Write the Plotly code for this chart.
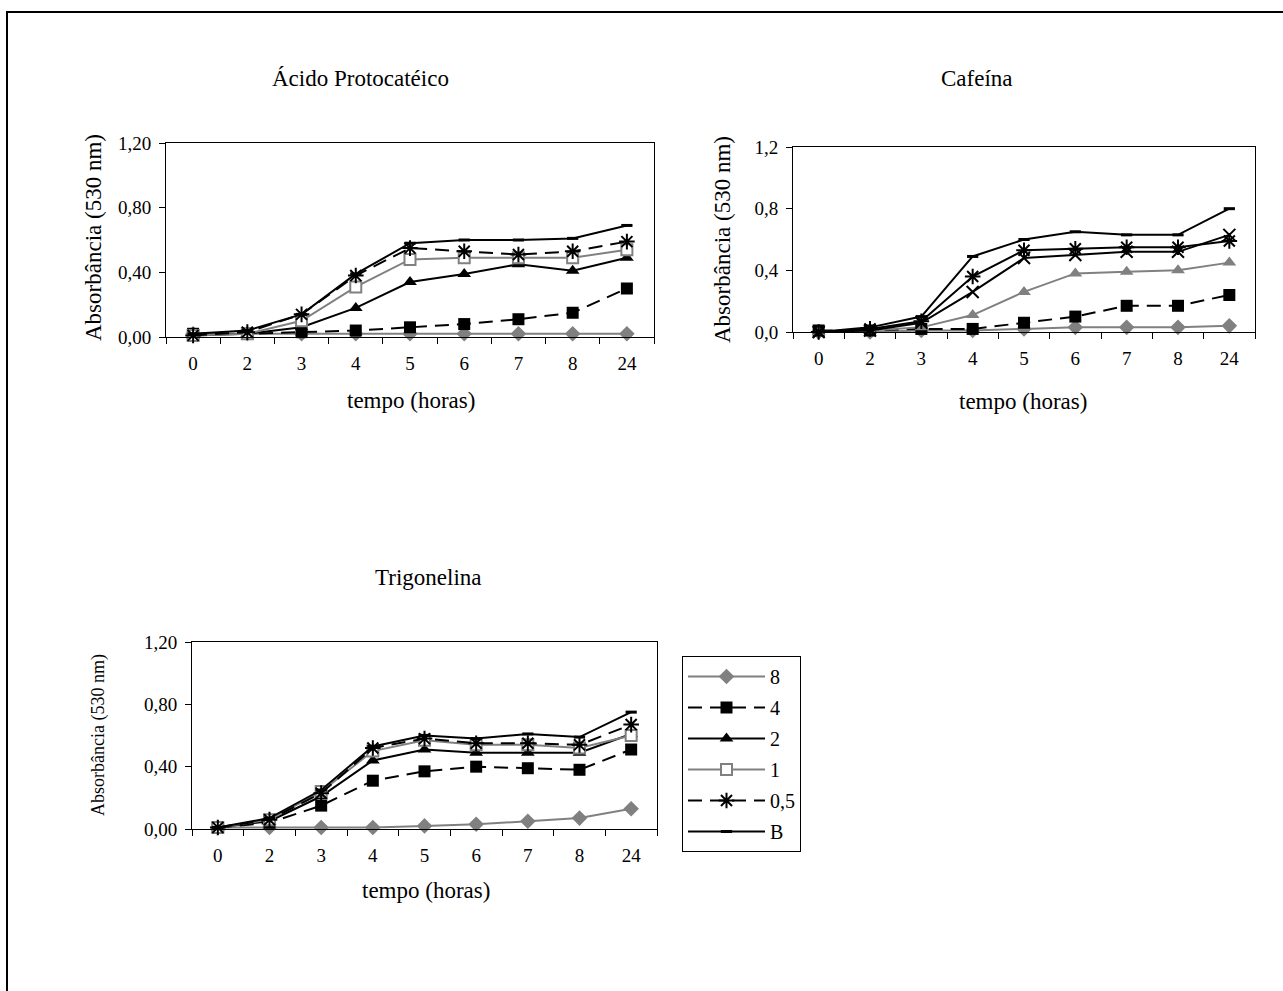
import plotly.graph_objects as go

W, H = 1283, 991

hours = ["0", "2", "3", "4", "5", "6", "7", "8", "24"]
series_names = ["8", "4", "2", "1", "0,5", "B"]

# Ácido Protocatéico
p_8 = [0.02, 0.02, 0.02, 0.02, 0.02, 0.02, 0.02, 0.02, 0.02]
p_4 = [0.02, 0.02, 0.03, 0.04, 0.06, 0.08, 0.11, 0.15, 0.30]
p_2 = [0.01, 0.02, 0.06, 0.18, 0.34, 0.39, 0.45, 0.41, 0.49]
p_1 = [0.01, 0.02, 0.10, 0.31, 0.48, 0.49, 0.49, 0.49, 0.54]
p_05 = [0.01, 0.03, 0.14, 0.38, 0.55, 0.53, 0.51, 0.53, 0.59]
p_B = [0.02, 0.04, 0.14, 0.39, 0.58, 0.60, 0.60, 0.61, 0.69]

# Cafeína
c_8 = [0.00, 0.00, 0.01, 0.01, 0.02, 0.03, 0.03, 0.03, 0.04]
c_4 = [0.01, 0.01, 0.02, 0.02, 0.06, 0.10, 0.17, 0.17, 0.24]
c_2 = [0.00, 0.01, 0.03, 0.11, 0.26, 0.38, 0.39, 0.40, 0.45]
c_1 = [0.00, 0.01, 0.06, 0.26, 0.48, 0.50, 0.52, 0.52, 0.63]
c_05 = [0.00, 0.02, 0.07, 0.36, 0.53, 0.54, 0.55, 0.55, 0.59]
c_B = [0.00, 0.03, 0.10, 0.49, 0.60, 0.65, 0.63, 0.63, 0.80]

# Trigonelina
t_8 = [0.01, 0.01, 0.01, 0.01, 0.02, 0.03, 0.05, 0.07, 0.13]
t_4 = [0.01, 0.04, 0.15, 0.31, 0.37, 0.40, 0.39, 0.38, 0.51]
t_2 = [0.01, 0.05, 0.21, 0.44, 0.51, 0.49, 0.49, 0.49, 0.61]
t_1 = [0.01, 0.06, 0.24, 0.50, 0.57, 0.54, 0.54, 0.52, 0.60]
t_05 = [0.01, 0.06, 0.23, 0.52, 0.58, 0.55, 0.55, 0.54, 0.67]
t_B = [0.01, 0.07, 0.25, 0.53, 0.60, 0.58, 0.61, 0.59, 0.75]

titles = ["Ácido Protocatéico", "Cafeína", "Trigonelina"]
y_title = "Absorbância (530 nm)"
x_title = "tempo (horas)"

FONT = "Liberation Serif, Times New Roman, serif"
GRAY = "#808080"
BLACK = "#000000"
DASH = "14px,8px"


def px(x):
    return x / W


def py(y):
    return 1 - y / H


# style per series: (line color, dash, symbol, marker color, marker line color, marker line width, size)
style_main = {
    "8": (GRAY, "solid", "diamond", GRAY, GRAY, 0, 12),
    "4": (BLACK, DASH, "square", BLACK, BLACK, 0, 12),
    "2": (BLACK, "solid", "triangle-up", BLACK, BLACK, 0, 12),
    "1": (GRAY, "solid", "square", "white", GRAY, 2, 11),
    "0,5": (BLACK, DASH, "asterisk-open", BLACK, BLACK, 2, 13),
    "B": (BLACK, "solid", "line-ew-open", BLACK, BLACK, 3, 8),
}
style_caf = {
    "8": (GRAY, "solid", "diamond", GRAY, GRAY, 0, 12),
    "4": (BLACK, DASH, "square", BLACK, BLACK, 0, 12),
    "2": (GRAY, "solid", "triangle-up", GRAY, GRAY, 0, 12),
    "1": (BLACK, "solid", "x-thin-open", BLACK, BLACK, 2, 12),
    "0,5": (BLACK, "solid", "asterisk-open", BLACK, BLACK, 2, 13),
    "B": (BLACK, "solid", "line-ew-open", BLACK, BLACK, 3, 8),
}

panels = [
    ("x", "y", [p_8, p_4, p_2, p_1, p_05, p_B], style_main, False),
    ("x2", "y2", [c_8, c_4, c_2, c_1, c_05, c_B], style_caf, False),
    ("x3", "y3", [t_8, t_4, t_2, t_1, t_05, t_B], style_main, True),
]

fig = go.Figure()
for xa, ya, data, sty, show in panels:
    for name, vals in zip(series_names, data):
        lc, dash, sym, mc, mlc, mlw, sz = sty[name]
        fig.add_trace(go.Scatter(
            x=hours, y=vals, mode="lines+markers", name=name,
            xaxis=xa, yaxis=ya, legendgroup=name, showlegend=show,
            line=dict(color=lc, width=2, dash=dash),
            marker=dict(symbol=sym, color=mc, size=sz,
                        line=dict(color=mlc, width=mlw)),
            cliponaxis=False,
        ))

tick_font = dict(family=FONT, size=19, color="black")


def xaxis(domain, anchor):
    return dict(domain=domain, anchor=anchor, type="category",
                categoryorder="array", categoryarray=hours,
                tickson="boundaries", ticks="outside", ticklen=6,
                tickcolor="black", showline=True, linecolor="black",
                linewidth=1, mirror=True, showgrid=False, zeroline=False,
                tickfont=tick_font, ticklabelstandoff=9,
                range=[-0.5, 8.5], automargin=False)


def yaxis(domain, anchor, fmt):
    return dict(domain=domain, anchor=anchor, range=[0, 1.2],
                tickvals=[0, 0.4, 0.8, 1.2], tickformat=fmt,
                ticks="outside", ticklen=6, tickcolor="black",
                showline=True, linecolor="black", linewidth=1, mirror=True,
                showgrid=False, zeroline=False, tickfont=tick_font,
                ticklabelstandoff=4, automargin=False)


layout = dict(
    width=W, height=H, autosize=False,
    margin=dict(l=0, r=0, t=0, b=0, pad=0, autoexpand=False),
    paper_bgcolor="white", plot_bgcolor="white",
    separators=",.",
    font=dict(family=FONT, color="black"),
    xaxis=xaxis([px(166), px(654)], "y"),
    yaxis=yaxis([py(337), py(143)], "x", ".2f"),
    xaxis2=xaxis([px(793), px(1255)], "y2"),
    yaxis2=yaxis([py(332), py(147)], "x2", ".1f"),
    xaxis3=xaxis([px(192), px(657)], "y3"),
    yaxis3=yaxis([py(829), py(642)], "x3", ".2f"),
    showlegend=True,
    legend=dict(x=px(682), y=py(656), xanchor="left", yanchor="top",
                bordercolor="black", borderwidth=1, bgcolor="white",
                font=dict(family=FONT, size=20, color="black"),
                tracegroupgap=2, itemwidth=77),
)
fig.update_layout(**layout)

ann = []
for text, x, y in [(titles[0], 360, 78), (titles[1], 977, 78), (titles[2], 429, 577)]:
    ann.append(dict(text=text, x=px(x), y=py(y), xref="paper", yref="paper",
                    showarrow=False, xanchor="center", yanchor="middle",
                    font=dict(family=FONT, size=23, color="black")))
for x, y in [(411, 400), (1023, 401), (426, 890)]:
    ann.append(dict(text=x_title, x=px(x), y=py(y), xref="paper", yref="paper",
                    showarrow=False, xanchor="center", yanchor="middle",
                    font=dict(family=FONT, size=23, color="black")))
for x, y, s in [(93, 238, 23), (722, 240, 23), (98, 735, 18)]:
    ann.append(dict(text=y_title, x=px(x), y=py(y), xref="paper", yref="paper",
                    showarrow=False, xanchor="center", yanchor="middle",
                    textangle=-90,
                    font=dict(family=FONT, size=s, color="black")))
fig.update_layout(annotations=ann)

fig.add_shape(type="rect", xref="paper", yref="paper",
              x0=px(7), x1=1.02, y0=-0.02, y1=py(12),
              line=dict(color="black", width=2), fillcolor="rgba(0,0,0,0)",
              layer="above")

fig.write_html("out.html", config={"displayModeBar": False},
               post_script="document.body.style.margin='0';")
